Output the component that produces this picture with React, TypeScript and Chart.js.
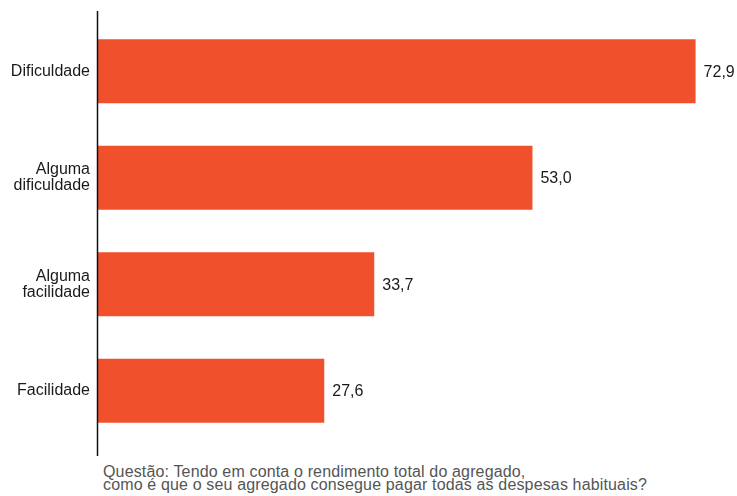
import { useEffect, useRef } from 'react';
import { Chart, registerables } from 'chart.js';

Chart.register(...registerables);

const categories: (string | string[])[] = [
  'Dificuldade',
  ['Alguma', 'dificuldade'],
  ['Alguma', 'facilidade'],
  'Facilidade',
];
const values = [72.9, 53.0, 33.7, 27.6];
const caption = [
  'Questão: Tendo em conta o rendimento total do agregado,',
  'como é que o seu agregado consegue pagar todas as despesas habituais?',
];

const FONT = '"Liberation Sans", Arial, Helvetica, sans-serif';
const BAR_COLOR = '#F0512C';

// value labels at the end of each bar, with a decimal comma
const valueLabels = {
  id: 'valueLabels',
  afterDatasetsDraw(chart: Chart) {
    const ctx = chart.ctx;
    const meta = chart.getDatasetMeta(0);
    ctx.save();
    ctx.font = `16px ${FONT}`;
    ctx.fillStyle = '#1a1a1a';
    ctx.textAlign = 'left';
    ctx.textBaseline = 'middle';
    meta.data.forEach((bar: any, i: number) => {
      const v = chart.data.datasets[0].data[i] as number;
      ctx.fillText(v.toFixed(1).replace('.', ','), bar.x + 8, bar.y + 1);
    });
    ctx.restore();
  },
};

// vertical axis line, a little longer than the plot area
const axisLine = {
  id: 'axisLine',
  afterDraw(chart: Chart) {
    const { ctx, chartArea } = chart;
    ctx.save();
    ctx.strokeStyle = '#111';
    ctx.lineWidth = 1.5;
    ctx.beginPath();
    ctx.moveTo(chartArea.left - 0.5, chartArea.top - 7);
    ctx.lineTo(chartArea.left - 0.5, chartArea.bottom + 12);
    ctx.stroke();
    ctx.restore();
  },
};

export default function App() {
  const canvasRef = useRef<HTMLCanvasElement>(null);
  const chartRef = useRef<Chart | null>(null);

  useEffect(() => {
    if (!canvasRef.current) return;
    chartRef.current?.destroy();

    chartRef.current = new Chart(canvasRef.current, {
      type: 'bar',
      data: {
        labels: categories,
        datasets: [
          {
            data: values,
            backgroundColor: BAR_COLOR,
            borderWidth: 0,
            barPercentage: 0.6,
            categoryPercentage: 1,
          },
        ],
      },
      options: {
        indexAxis: 'y',
        animation: false,
        responsive: false,
        maintainAspectRatio: false,
        layout: { padding: { left: 0, right: 16, top: 18, bottom: 16 } },
        plugins: {
          legend: { display: false },
          tooltip: { enabled: false },
        },
        scales: {
          x: {
            display: false,
            min: 0,
            max: 76,
          },
          y: {
            grid: { display: false, drawTicks: false },
            border: { display: false },
            ticks: {
              color: '#1a1a1a',
              padding: 8,
              font: { size: 16, family: FONT, lineHeight: 1 },
            },
            afterFit(scale: any) {
              scale.width = 98;
            },
          },
        },
      },
      plugins: [valueLabels, axisLine],
    });

    return () => {
      chartRef.current?.destroy();
      chartRef.current = null;
    };
  }, []);

  return (
    <div style={{ position: 'fixed', left: 0, top: 0, width: 737, height: 496, background: '#fff' }}>
      <canvas ref={canvasRef} width={737} height={460} style={{ display: 'block', width: 737, height: 460 }} />
      <div
        style={{
          position: 'absolute',
          left: 103,
          top: 465,
          fontFamily: FONT,
          fontSize: 16,
          letterSpacing: '0.15px',
          lineHeight: '13px',
          color: '#555',
          whiteSpace: 'nowrap',
        }}
      >
        {caption.map((line) => (
          <div key={line}>{line}</div>
        ))}
      </div>
    </div>
  );
}
